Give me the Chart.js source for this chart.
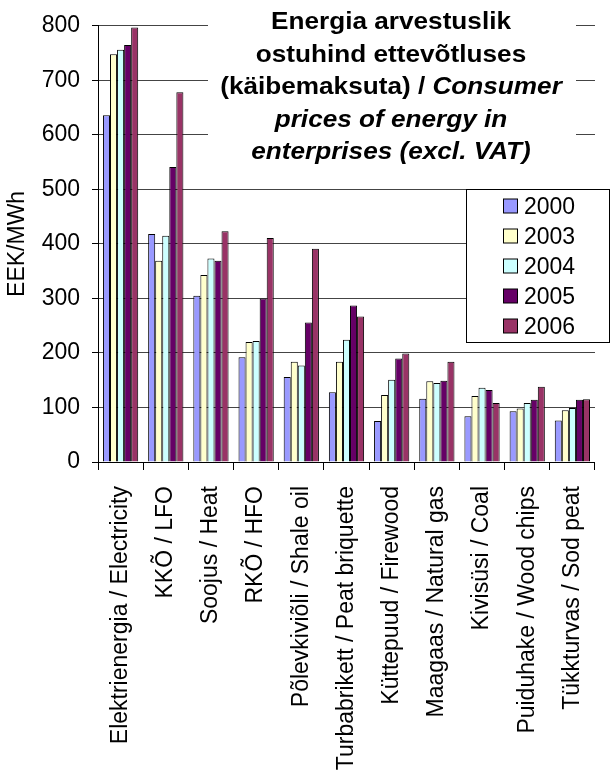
<!DOCTYPE html>
<html>
<head>
<meta charset="utf-8">
<script src="https://cdn.jsdelivr.net/npm/chart.js@4.4.1/dist/chart.umd.min.js"></script>
<style>
  html, body { margin: 0; padding: 0; background: #fff; }
  #wrap { width: 616px; height: 771px; position: relative; }
</style>
</head>
<body>
<div id="wrap"><canvas id="chart"></canvas></div>
<script>
// Kategooriad / categories
const categories = [
  'Elektrienergia / Electricity',
  'KKÕ / LFO',
  'Soojus / Heat',
  'RKÕ / HFO',
  'Põlevkiviõli / Shale oil',
  'Turbabrikett / Peat briquette',
  'Küttepuud / Firewood',
  'Maagaas / Natural gas',
  'Kivisüsi / Coal',
  'Puiduhake / Wood chips',
  'Tükkturvas / Sod peat',
];

const years = ['2000', '2003', '2004', '2005', '2006'];
const colors = ['#9999FF', '#FFFFCC', '#CCFFFF', '#660066', '#993366'];

// EEK/MWh, loetud pildilt
const values2000 = [636, 418, 305, 192, 156, 128, 75, 116, 84, 93, 76];
const values2003 = [748, 369, 343, 220, 184, 184, 123, 148, 121, 98, 95];
const values2004 = [756, 415, 373, 222, 177, 224, 151, 145, 136, 108, 99];
const values2005 = [765, 541, 369, 300, 256, 287, 190, 149, 132, 114, 114];
const values2006 = [797, 678, 423, 411, 391, 267, 199, 184, 108, 138, 115];
const seriesValues = [values2000, values2003, values2004, values2005, values2006];

const yTicks = [0, 100, 200, 300, 400, 500, 600, 700, 800];

const titleLines = [
  [{ t: 'Energia arvestuslik', i: false }],
  [{ t: 'ostuhind ettevõtluses', i: false }],
  [{ t: '(käibemaksuta) / ', i: false }, { t: 'Consumer', i: true }],
  [{ t: 'prices of energy in', i: true }],
  [{ t: 'enterprises (excl. VAT)', i: true }],
];

const FONT = '"Liberation Sans", Arial, sans-serif';

// Pealkiri valge taustaga (katab ruudujooned)
const titlePlugin = {
  id: 'boxTitle',
  beforeDatasetsDraw(chart) {
    const ctx = chart.ctx;
    ctx.save();
    ctx.fillStyle = '#fff';
    ctx.fillRect(208, 0, 368, 170);
    ctx.fillStyle = '#000';
    ctx.textBaseline = 'alphabetic';
    ctx.textAlign = 'left';
    const cx = 391;
    const sx = 1.09; // originaali font on laiem
    titleLines.forEach((parts, idx) => {
      let total = 0;
      parts.forEach((p) => {
        ctx.font = (p.i ? 'italic ' : '') + 'bold 24px ' + FONT;
        total += ctx.measureText(p.t).width;
      });
      let x = cx / sx - total / 2;
      const y = 29 + idx * 32.5;
      ctx.save();
      ctx.scale(sx, 1);
      parts.forEach((p) => {
        ctx.font = (p.i ? 'italic ' : '') + 'bold 24px ' + FONT;
        ctx.fillText(p.t, x, y);
        x += ctx.measureText(p.t).width;
      });
      ctx.restore();
    });
    ctx.restore();
  },
};

// Legend kastis
const legendPlugin = {
  id: 'boxLegend',
  afterDatasetsDraw(chart) {
    const ctx = chart.ctx;
    ctx.save();
    ctx.fillStyle = '#fff';
    ctx.fillRect(466.5, 189.5, 143, 153);
    ctx.strokeStyle = '#000';
    ctx.lineWidth = 1;
    ctx.strokeRect(466.5, 189.5, 143, 153);
    ctx.font = '23px ' + FONT;
    ctx.textBaseline = 'middle';
    ctx.textAlign = 'left';
    chart.data.datasets.forEach((ds, i) => {
      const cy = 206.5 + i * 30;
      ctx.fillStyle = ds.backgroundColor;
      ctx.fillRect(503.5, cy - 7.5, 14, 14);
      ctx.strokeStyle = '#000';
      ctx.strokeRect(503.5, cy - 7.5, 14, 14);
      ctx.fillStyle = '#000';
      ctx.fillText(ds.label, 524, cy + 1);
    });
    ctx.restore();
  },
};

const datasets = years.map((year, i) => ({
  label: year,
  data: seriesValues[i],
  backgroundColor: colors[i],
  borderColor: '#000',
  borderWidth: 1,
  barPercentage: 1,
  categoryPercentage: 0.78,
}));

new Chart(document.getElementById('chart'), {
  type: 'bar',
  data: { labels: categories, datasets },
  plugins: [titlePlugin, legendPlugin],
  options: {
    responsive: true,
    maintainAspectRatio: false,
    animation: false,
    layout: { padding: { top: 17, right: 0, left: 0, bottom: 0 } },
    plugins: {
      legend: { display: false },
      title: { display: false },
      tooltip: { enabled: false },
    },
    scales: {
      x: {
        afterFit(scale) { scale.height = 309; },
        grid: {
          offset: true,
          drawOnChartArea: false,
          drawTicks: true,
          tickLength: 8,
          color: '#000',
        },
        border: { color: '#000', width: 1 },
        ticks: {
          minRotation: 90,
          maxRotation: 90,
          autoSkip: false,
          padding: 16,
          color: '#000',
          font: { family: FONT, size: 23 },
        },
      },
      y: {
        min: 0,
        max: 800,
        afterFit(scale) { scale.width = 98; },
        afterBuildTicks(scale) { scale.ticks = yTicks.map((v) => ({ value: v })); },
        grid: {
          color: '#444',
          tickLength: 6,
          tickColor: '#000',
        },
        border: { color: '#000', width: 1 },
        ticks: {
          padding: 12,
          color: '#000',
          font: { family: FONT, size: 23 },
        },
        title: {
          display: true,
          text: 'EEK/MWh',
          color: '#000',
          padding: { top: 4, bottom: 0 },
          font: { family: FONT, size: 23 },
        },
      },
    },
  },
});
</script>
</body>
</html>
